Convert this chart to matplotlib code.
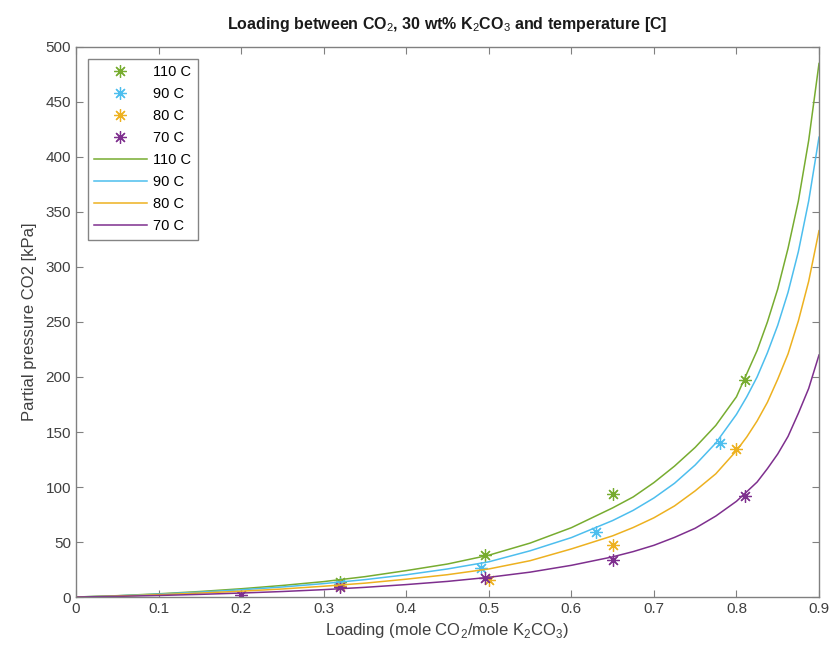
import numpy as np
import matplotlib
matplotlib.use("Agg")
import matplotlib.pyplot as plt

plt.rcParams['font.family'] = ['Liberation Sans', 'DejaVu Sans']
plt.rcParams['mathtext.fontset'] = 'custom'
plt.rcParams['mathtext.rm'] = 'Liberation Sans'
plt.rcParams['mathtext.bf'] = 'Liberation Sans:bold'

# measured points
x_110 = [0.32, 0.495, 0.65, 0.81]
y_110 = [13.5, 38.5, 94, 197]
x_90 = [0.32, 0.49, 0.63, 0.78]
y_90 = [12, 26.5, 59, 140]
x_80 = [0.32, 0.50, 0.65, 0.80]
y_80 = [10, 15.5, 47, 135]
x_70 = [0.20, 0.32, 0.495, 0.65, 0.81]
y_70 = [1.5, 9, 17, 33.5, 92]

# fitted curves
x_fit = [0, 0.05, 0.1, 0.15, 0.2, 0.25, 0.3, 0.35, 0.4, 0.45, 0.5, 0.55,
         0.6, 0.65, 0.675, 0.7, 0.725, 0.75, 0.775, 0.8, 0.8125, 0.825,
         0.8375, 0.85, 0.8625, 0.875, 0.8875, 0.9]
fit_110 = [0, 1.2, 2.9, 5, 7.5, 10.5, 14, 18.5, 24, 30, 38, 49,
           63, 81, 91, 104, 119, 136, 156, 182, 203, 224,
           250, 280, 317, 360, 415, 485]
fit_90 = [0, 1.1, 2.6, 4.4, 6.6, 9.1, 12.2, 15.8, 20.2, 25.5, 32, 42,
          54, 69.5, 78.8, 90, 103.4, 120, 140, 166, 182, 200,
          222, 247, 277, 314, 360, 418]
fit_80 = [0, 0.9, 2.1, 3.6, 5.3, 7.3, 9.8, 12.6, 16.2, 20.3, 25.5, 33,
          43.7, 55.6, 63.2, 72, 82.8, 96.5, 112, 133, 145.5, 160,
          177, 198, 221, 251, 287, 333]
fit_70 = [0, 0.6, 1.4, 2.4, 3.6, 5.0, 6.7, 8.8, 11.3, 14.2, 17.9, 22.6,
          28.8, 36.5, 41.3, 47, 54.2, 62.5, 73.6, 87, 95.7, 104.5,
          116.7, 130, 146, 167, 189.6, 220]

labels = ['110 C', '90 C', '80 C', '70 C']
colors = ['#77AC30', '#4DBEEE', '#EDB120', '#7E2F8E']

fig = plt.figure(figsize=(8.33, 6.57), dpi=100)
ax = fig.add_axes([0.0912, 0.0913, 0.892, 0.8372])

ast = (8, 2, 0)
pts = [(x_110, y_110), (x_90, y_90), (x_80, y_80), (x_70, y_70)]
for (xs, ys), c, lab in zip(pts, colors, labels):
    ax.plot(xs, ys, linestyle='none', marker=ast, markersize=9,
            markeredgewidth=0.9, color=c, label=lab)
fits = [fit_110, fit_90, fit_80, fit_70]
for ys, c, lab in zip(fits, colors, labels):
    ax.plot(x_fit, ys, color=c, linewidth=1.1, label=lab)

ax.set_xlim(0, 0.9)
ax.set_ylim(0, 500)
ax.set_xticks(np.arange(0, 0.91, 0.1))
ax.set_xticklabels(['0', '0.1', '0.2', '0.3', '0.4', '0.5', '0.6', '0.7', '0.8', '0.9'])
ax.set_yticks(np.arange(0, 501, 50))

axcol = '#808080'
for s in ax.spines.values():
    s.set_color(axcol)
    s.set_linewidth(1.0)
ax.tick_params(direction='in', top=True, right=True, length=5, width=0.8,
               colors=axcol, labelcolor='#404040', labelsize=11)

ax.set_title('Loading between CO$_2$, 30 wt% K$_2$CO$_3$ and temperature [C]',
             fontsize=11.5, fontweight='bold', color='#1a1a1a', pad=13)
ax.set_xlabel('Loading (mole CO$_2$/mole K$_2$CO$_3$)', fontsize=12, color='#404040')
ax.set_ylabel('Partial pressure CO2 [kPa]', fontsize=12, color='#404040', labelpad=6)

leg = ax.legend(loc='upper left', fontsize=10.5, frameon=True, fancybox=False,
                borderaxespad=0.8, handlelength=3.6, labelspacing=0.55,
                borderpad=0.45, handletextpad=0.45)
leg.get_frame().set_edgecolor('#666666')
leg.get_frame().set_linewidth(1.0)

fig.savefig('out.png', dpi=100)
